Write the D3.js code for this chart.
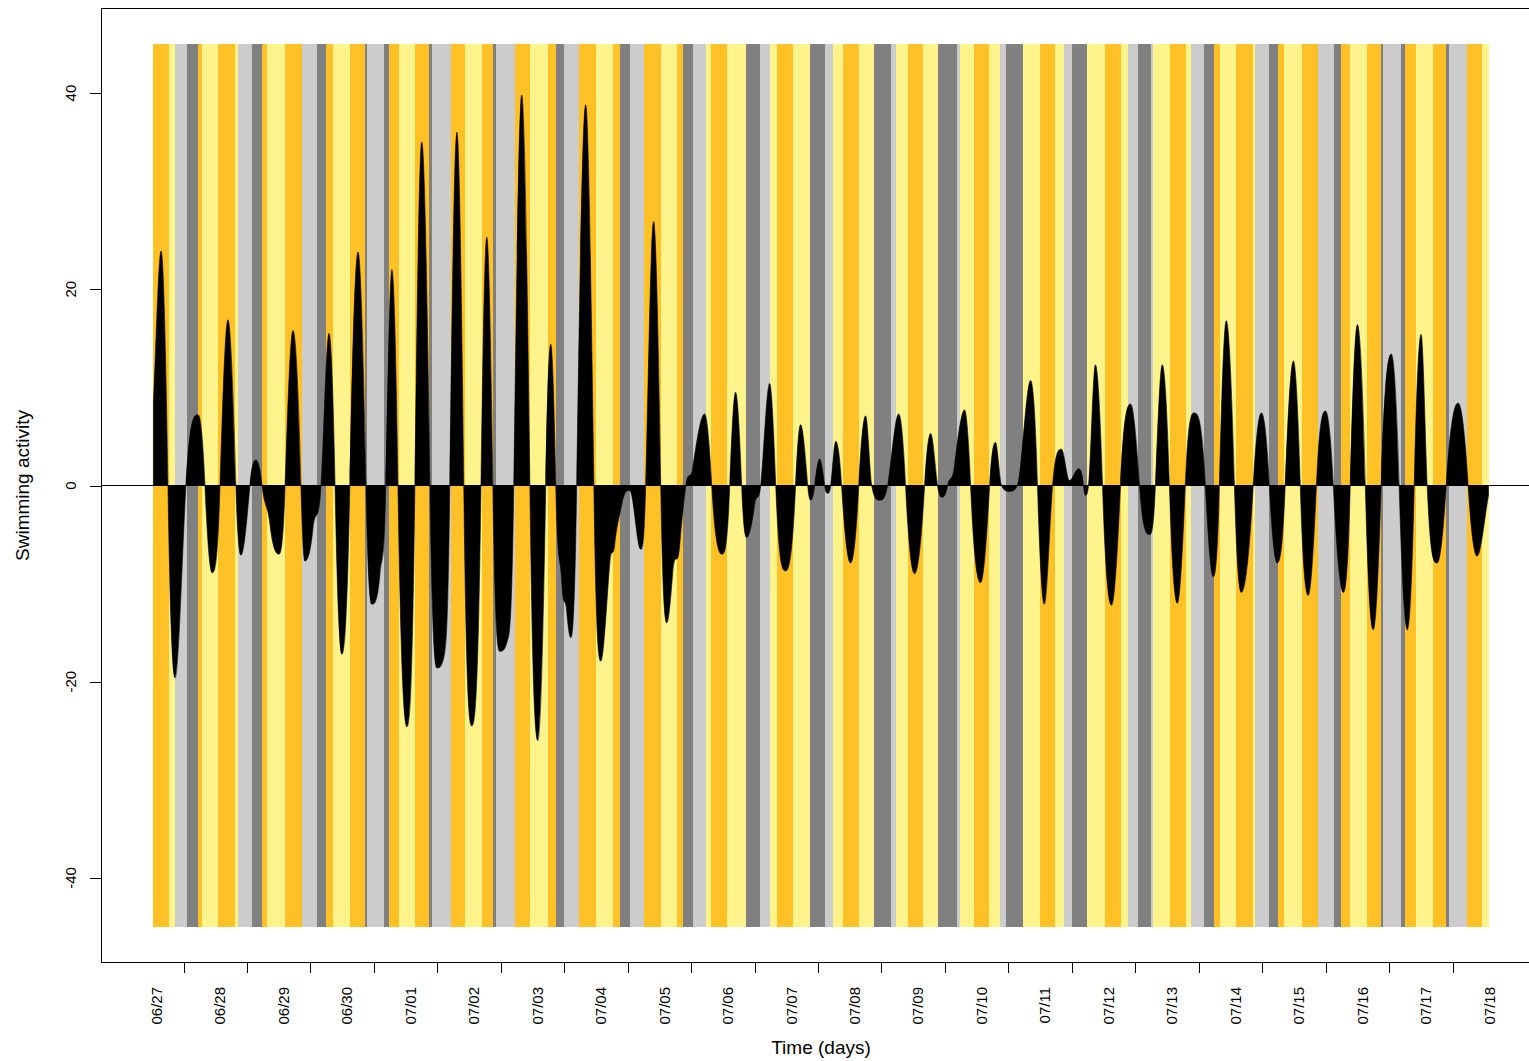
<!DOCTYPE html>
<html>
<head>
<meta charset="utf-8">
<script src="https://cdn.jsdelivr.net/npm/d3@7"></script>
<style>
  html, body { margin: 0; padding: 0; background: #ffffff; }
  svg { display: block; }
  text { font-family: "Liberation Sans", Arial, sans-serif; fill: #000; }
</style>
</head>
<body>
<svg id="chart" width="1529" height="1061"></svg>
<script>
// Time is in hours from 06/27 00:00.

// Day labels (one per midnight)
const dayLabels = ["06/27","06/28","06/29","06/30","07/01","07/02","07/03","07/04","07/05",
  "07/06","07/07","07/08","07/09","07/10","07/11","07/12","07/13","07/14","07/15",
  "07/16","07/17","07/18"];
// Axis tick marks fall at this hour of each day
const tickHourOfDay = 10.4;
const tickCount = 21;
const yTicks = [-40, -20, 0, 20, 40];

// Background phases: O = day / flood, Y = day / ebb, L = night / flood, D = night / ebb
const phaseStart = [-1.0, 4.9, 7.2, 11.6, 15.8, 17.5, 23.6, 29.9, 31.1, 36.4, 40.2, 41.9, 48.8,
  55.1, 60.8, 64.2, 66.8, 73.4, 79.1, 79.7, 86.1, 88.0, 91.8, 98.1, 103.4, 104.4, 111.7, 116.8,
  123.3, 127.4, 128.6, 135.7, 141.6, 148.2, 151.3, 154.2, 159.9, 166.3, 172.9, 175.4, 179.2,
  184.6, 190.9, 197.2, 199.3, 203.1, 208.2, 210.0, 216.1, 223.1, 228.3, 232.1, 234.8, 241.1,
  247.4, 253.2, 256.0, 259.7, 265.8, 271.7, 278.0, 279.9, 284.6, 290.0, 295.7, 302.9, 304.1,
  309.5, 315.2, 319.2, 321.5, 327.8, 334.3, 339.9, 343.5, 346.6, 352.3, 358.8, 364.9, 367.7,
  371.4, 376.2, 377.1, 383.7, 389.7, 391.6, 396.3, 400.1, 402.3, 408.6, 414.9, 415.8, 421.1,
  424.3, 426.8, 433.4, 439.4, 445.6, 448.2, 451.6, 458.2, 463.4, 464.2, 470.8, 472.4, 476.6,
  483.1, 487.8, 489.2, 496.0, 501.4];
const phaseCode = ["O","Y","L","D","O","Y","O","Y","L","D","O","Y","O",
  "L","D","O","Y","O","D","L","D","O","Y","O","D","L","O","Y",
  "O","D","L","O","Y","O","D","L","O","Y","O","D","L",
  "O","Y","O","D","L","Y","O","Y","D","L","Y","O","Y",
  "D","L","Y","O","Y","D","L","Y","O","Y","D","L","Y",
  "O","Y","L","D","Y","O","Y","L","D","Y","O","Y","L",
  "D","L","Y","O","Y","L","D","O","Y","O","Y","L","D",
  "O","Y","O","L","D","O","Y","O","D","L","D","O","Y",
  "O","D","L","O","Y"];
const phaseEnd = 504.3;
const phaseColor = { O: "#FFC125", Y: "#FFF38C", L: "#CCCCCC", D: "#808080" };

// Swimming activity (hours, value)
const actHours = [-1.0, 1.9, 4.5, 7.2, 11.3, 15.9, 18.5, 21.2, 24.2, 27.2, 30.2, 32.1, 35.5, 37.8,
  40.1, 43.1, 46.5, 48.8, 51.8, 54.8, 56.3, 59.3, 62.4, 65.4, 67.7, 70.3, 73.3, 76.4, 79.4,
  81.6, 84.7, 86.9, 89.2, 91.5, 94.9, 97.9, 100.5, 103.6, 106.2, 109.2, 111.1, 113.8, 116.4,
  119.4, 122.9, 125.1, 127.4, 130.0, 132.7, 135.3, 138.3, 141.4, 144.4, 147.4, 149.3, 151.2,
  153.5, 155.4, 156.9, 159.1, 162.5, 165.6, 168.2, 171.6, 173.5, 176.1, 179.2, 183.3, 185.2,
  188.2, 190.9, 193.2, 195.4, 198.1, 200.4, 203.0, 207.5, 210.2, 214.0, 217.0, 219.2, 221.5,
  223.4, 226.4, 228.7, 232.1, 234.4, 238.2, 241.9, 243.8, 246.5, 247.6, 249.1, 251.0, 252.9,
  254.0, 255.2, 257.1, 259.3, 262.7, 265.8, 268.4, 270.7, 273.7, 276.7, 280.9, 283.5, 286.9,
  290.7, 293.0, 295.6, 297.5, 299.4, 302.0, 305.8, 308.1, 311.9, 315.3, 317.5, 319.8, 322.8,
  325.8, 330.8, 333.4, 336.0, 339.1, 342.5, 345.5, 348.9, 350.8, 351.5, 352.7, 355.3, 358.0,
  361.4, 364.8, 368.6, 372.0, 375.7, 378.0, 380.6, 383.3, 386.3, 389.3, 392.7, 396.9, 399.9,
  402.2, 404.8, 407.9, 410.5, 415.0, 418.1, 421.1, 424.1, 427.1, 430.2, 432.8, 435.8, 438.9,
  442.3, 445.3, 449.1, 451.7, 454.4, 457.4, 460.4, 463.4, 467.2, 470.2, 473.3, 475.9, 478.5,
  480.8, 484.6, 488.0, 492.5, 496.3, 499.7, 504.0];
const actValues = [8.5, 23.9, 0, -19.6, 0, 7.2, 0, -8.9, 0, 16.9, 0, -7.1, 0, 2.6,
  0, -4, -7, 0, 15.8, 0, -7.7, -4.5, 0, 15.5, 0, -17.2, 0, 23.8, 0,
  -12.1, -9, 0, 22, 0, -24.6, 0, 35, 0, -18.6, -17, 0, 36, 0,
  -24.5, 0, 25.3, 0, -16.9, -16, 0, 39.8, 0, -26, 0, 14.4, 0,
  -10, -13, -15.5, 0, 38.8, 0, -17.9, -8, -6, -2, -0.5, -6.5, 0,
  26.9, 0, -14, -9, -6, 0, 1.8, 7.3, 0, -7, 0, 9.5, 0,
  -5.3, -2, 0, 10.4, 0, -8.7, 0, 6.2, 0, -1.5, 0, 2.7, 0,
  -0.8, 0, 4.5, 0, -7.9, 0, 7.1, 0, -1.5, 0, 7.3, 0, -9,
  0, 5.3, 0, -1.2, 0, 2, 7.7, 0, -9.9, 0, 4.4, 0, -0.6,
  0, 10.7, 0, -12.1, 0, 3.7, 0.5, 1.7, 0, -1, 0, 12.3, 0,
  -12.2, 0, 8.3, 0, -5, 0, 12.3, 0, -12, 0, 7.4, 0, -9.3,
  0, 16.8, 0, -10.9, 0, 7.4, 0, -7.9, 0, 12.7, 0, -11.2, 0,
  7.6, 0, -10.9, 0, 16.4, 0, -14.7, 0, 13.4, 0, -14.7, 0, 15.4,
  0, -7.9, 0, 8.4, 0, -7.2, -1];

// Monotone cubic curve for d3.area: flat tangents at local extremes, steep
// tangents through the zero crossings, no overshoot on shelves.
class SteepMonotone {
  constructor(context) { this._context = context; }
  areaStart() { this._line = 0; }
  areaEnd() { this._line = NaN; }
  lineStart() { this._xs = []; this._ys = []; }
  point(px, py) { this._xs.push(+px); this._ys.push(+py); }
  lineEnd() {
    const xs = this._xs, ys = this._ys, n = xs.length, c = this._context;
    if (n) {
      if (this._line) c.lineTo(xs[0], ys[0]); else c.moveTo(xs[0], ys[0]);
      const slope = i => (ys[i + 1] - ys[i]) / (xs[i + 1] - xs[i]);
      const tan = new Array(n).fill(0);
      for (let i = 0; i < n; i++) {
        if (n === 1) break;
        if (i === 0) { tan[i] = slope(0); continue; }
        if (i === n - 1) { tan[i] = slope(n - 2); continue; }
        const s0 = slope(i - 1), s1 = slope(i);
        if (!(s0 * s1 > 0)) { tan[i] = 0; continue; }
        const h0 = xs[i] - xs[i - 1], h1 = xs[i + 1] - xs[i];
        const p = (s0 * h1 + s1 * h0) / (h0 + h1);
        tan[i] = Math.sign(s0) * Math.min(3 * Math.min(Math.abs(s0), Math.abs(s1)), 2 * Math.abs(p));
      }
      for (let i = 0; i < n - 1; i++) {
        const h = xs[i + 1] - xs[i];
        c.bezierCurveTo(xs[i] + h / 3, ys[i] + tan[i] * h / 3,
                        xs[i + 1] - h / 3, ys[i + 1] - tan[i + 1] * h / 3,
                        xs[i + 1], ys[i + 1]);
      }
    }
    if (this._line || (this._line !== 0 && n === 1)) c.closePath();
    this._line = 1 - this._line;
  }
}
const steepMonotone = context => new SteepMonotone(context);

// Layout
const plot = { left: 101, top: 8, right: 1542, bottom: 962 };
const svg = d3.select("#chart");
svg.append("rect").attr("width", 1529).attr("height", 1061).attr("fill", "#fff");

const x = d3.scaleLinear().domain([-1.0, 504.3]).range([153.4, 1489.3]);
const y = d3.scaleLinear().domain([-45, 45]).range([927, 44]);

// Background phase bands
const bands = phaseStart.map((s, i) => ({
  start: s,
  end: i + 1 < phaseStart.length ? phaseStart[i + 1] : phaseEnd,
  code: phaseCode[i]
}));
svg.append("g").selectAll("rect").data(bands).join("rect")
  .attr("x", d => x(d.start))
  .attr("width", d => x(d.end) - x(d.start))
  .attr("y", y(45))
  .attr("height", y(-45) - y(45))
  .attr("fill", d => phaseColor[d.code])
  .attr("shape-rendering", "crispEdges");

// Activity area
const series = actHours.map((h, i) => ({ h, v: actValues[i] }));
const area = d3.area()
  .x(d => x(d.h))
  .y0(y(0))
  .y1(d => y(d.v))
  .curve(steepMonotone);
svg.append("path").datum(series).attr("d", area).attr("fill", "#000").attr("stroke", "#000").attr("stroke-width", 0.6);

// Zero reference line
svg.append("line")
  .attr("x1", plot.left).attr("x2", plot.right)
  .attr("y1", y(0)).attr("y2", y(0))
  .attr("stroke", "#000").attr("stroke-width", 1);

// Frame
svg.append("rect")
  .attr("x", plot.left + 0.5).attr("y", plot.top + 0.5)
  .attr("width", plot.right - plot.left).attr("height", plot.bottom - plot.top)
  .attr("fill", "none").attr("stroke", "#000").attr("stroke-width", 1);

// Y axis
const yAxis = svg.append("g");
yAxis.selectAll("line").data(yTicks).join("line")
  .attr("x1", plot.left - 11).attr("x2", plot.left)
  .attr("y1", d => Math.round(y(d)) + 0.5).attr("y2", d => Math.round(y(d)) + 0.5)
  .attr("stroke", "#000");
yAxis.selectAll("text").data(yTicks).join("text")
  .attr("transform", d => `translate(76,${y(d)}) rotate(-90)`)
  .attr("text-anchor", "middle")
  .attr("font-size", 15)
  .text(d => d);

// X axis
const tickHours = d3.range(tickCount).map(k => tickHourOfDay + 24 * k);
const xAxis = svg.append("g");
xAxis.selectAll("line").data(tickHours).join("line")
  .attr("x1", d => Math.round(x(d)) + 0.5).attr("x2", d => Math.round(x(d)) + 0.5)
  .attr("y1", plot.bottom).attr("y2", plot.bottom + 11)
  .attr("stroke", "#000");
xAxis.selectAll("text").data(dayLabels).join("text")
  .attr("transform", (d, i) => `translate(${x(24 * i) + 6},987) rotate(-90)`)
  .attr("text-anchor", "end")
  .attr("font-size", 15)
  .text(d => d);

// Axis titles
svg.append("text")
  .attr("transform", `translate(29,${y(0)}) rotate(-90)`)
  .attr("text-anchor", "middle")
  .attr("font-size", 19)
  .text("Swimming activity");
svg.append("text")
  .attr("x", 821).attr("y", 1054)
  .attr("text-anchor", "middle")
  .attr("font-size", 19)
  .text("Time (days)");
</script>
</body>
</html>
